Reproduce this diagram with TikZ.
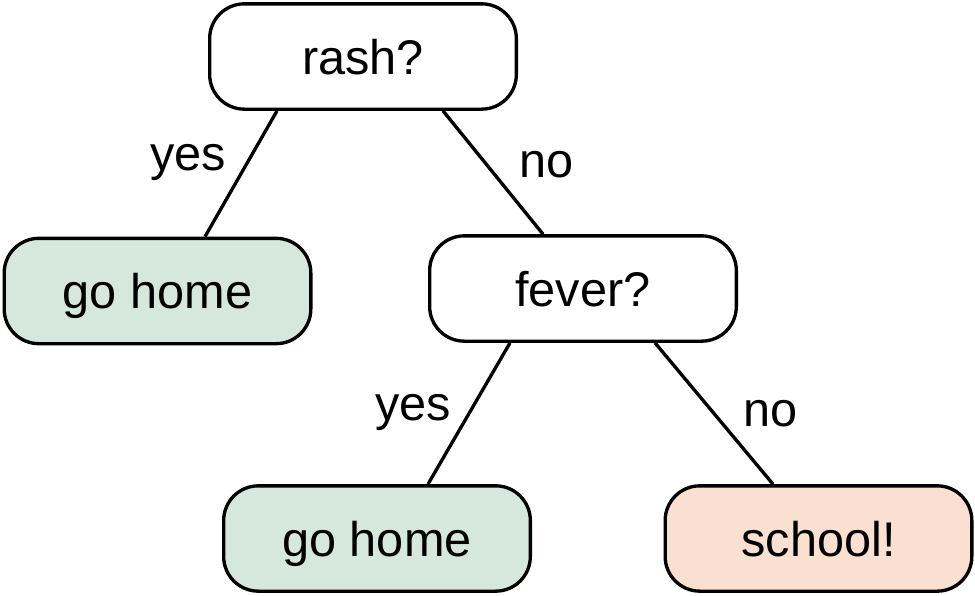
\documentclass[tikz,border=0pt]{standalone}
\usepackage{fontspec}
\setmainfont{Liberation Sans}
\usetikzlibrary{calc}
\definecolor{leafgreen}{HTML}{D6E8DB}
\definecolor{leafpeach}{HTML}{F9E0D0}
\tikzset{
  decision/.style={draw=black, line width=2.5pt, rounded corners=26pt, fill=white,
    minimum width=230pt, minimum height=79pt, inner sep=0pt,
    text height=26.3pt, text depth=0pt, font=\fontsize{36.5}{42}\selectfont},
  leafgo/.style={decision, fill=leafgreen},
  leafschool/.style={decision, fill=leafpeach},
  edge/.style={draw=black, line width=2.5pt},
  lbl/.style={font=\fontsize{36.5}{42}\selectfont, inner sep=0pt, text height=26.3pt, text depth=0pt}
}
\begin{document}
\begin{tikzpicture}[x=0.75pt,y=-0.75pt]
\useasboundingbox (0,0) rectangle (975,596);
\node[decision] (rash) at (363,56.5) {rash?};
\node[leafgo] (gh1) at (157.5,291) {go home};
\node[decision] (fever) at (583,288.5) {fever?};
\node[leafgo] (gh2) at (377,538.5) {go home};
\node[leafschool] (school) at (818.5,538.5) {school!};
\coordinate (r1) at ($(rash.south)+(-86,0)$);
\coordinate (r2) at ($(rash.south)+(80,0)$);
\coordinate (g1) at ($(gh1.north)+(47.5,0)$);
\coordinate (f0) at ($(fever.north)+(-40,0)$);
\coordinate (f1) at ($(fever.south)+(-73,0)$);
\coordinate (f2) at ($(fever.south)+(72,0)$);
\coordinate (g2) at ($(gh2.north)+(51,0)$);
\coordinate (s0) at ($(school.north)+(-45.5,0)$);
\draw[edge] (r1) -- (g1);
\draw[edge] (r2) -- (f0);
\draw[edge] (f1) -- (g2);
\draw[edge] (f2) -- (s0);
\node[lbl] (l1) at (188,153) {yes};
\node[lbl] (l2) at (547,160) {no};
\node[lbl] (l3) at (413,403) {yes};
\node[lbl] (l4) at (771,409) {no};
\end{tikzpicture}
\end{document}
